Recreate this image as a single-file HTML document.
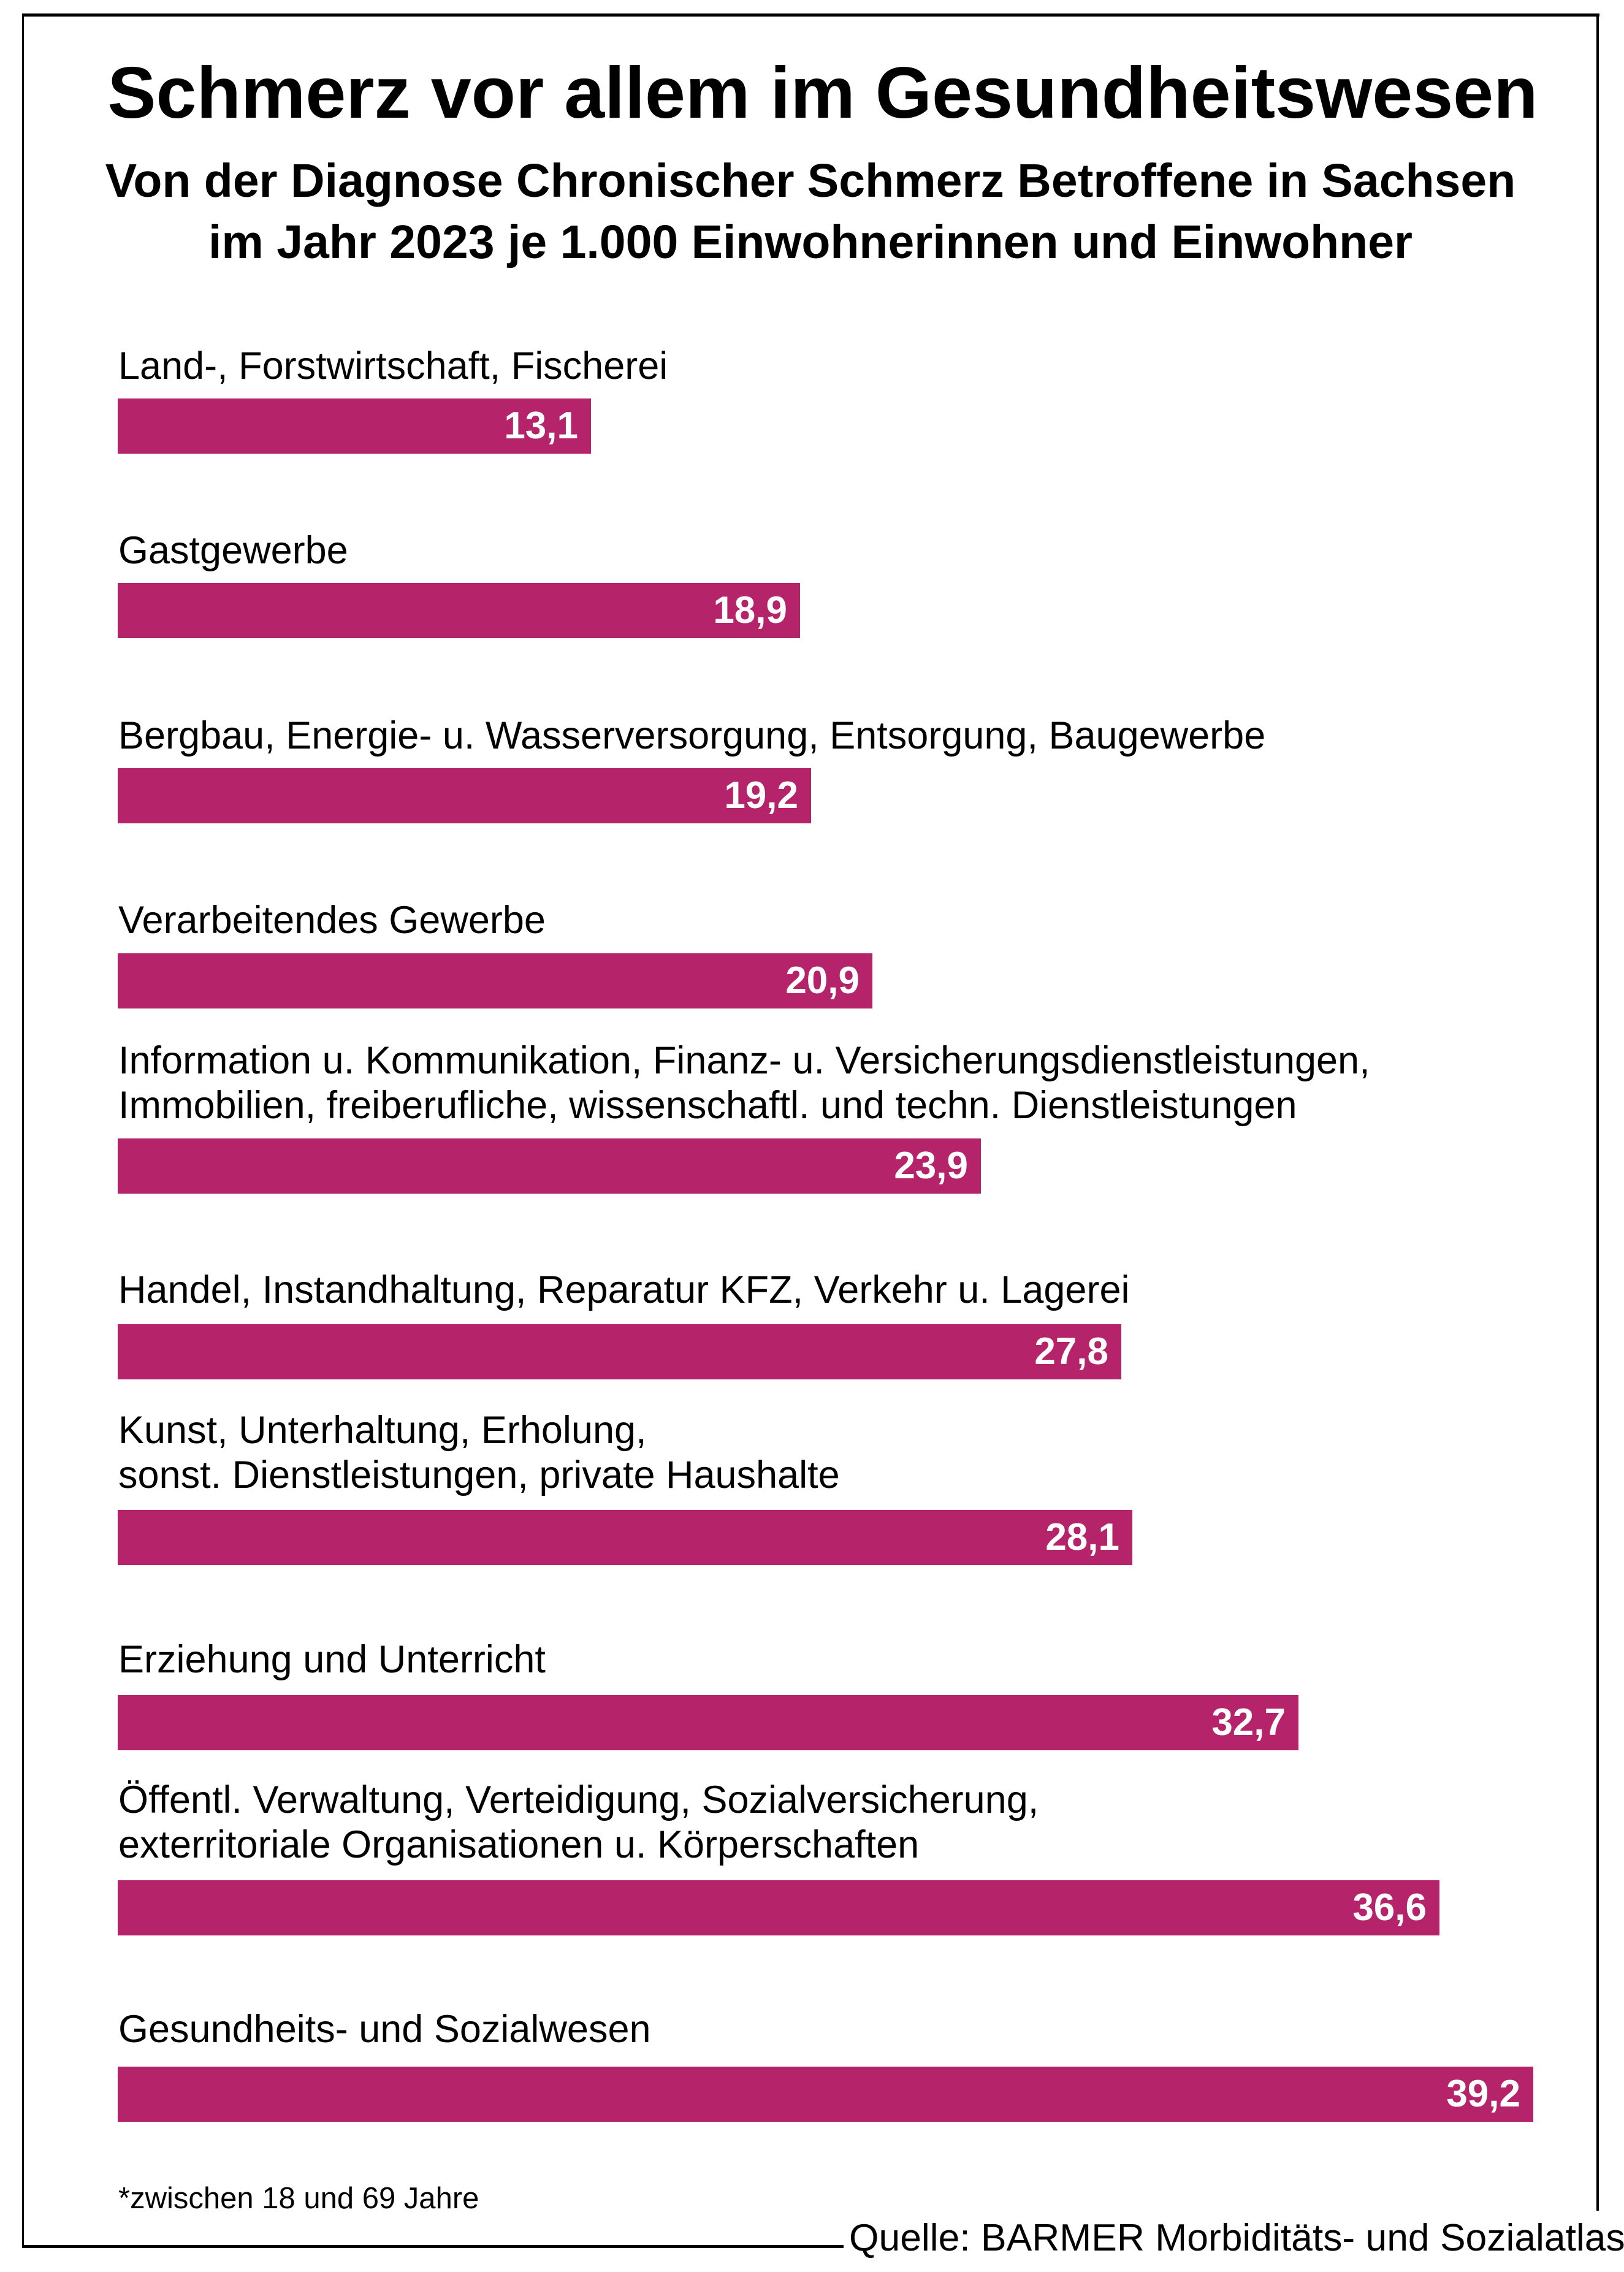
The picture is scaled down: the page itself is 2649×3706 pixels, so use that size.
<!DOCTYPE html>
<html><head><meta charset="utf-8"><style>
body{margin:0;width:2649px;height:3706px;background:#fff;position:relative;overflow:hidden;font-family:"Liberation Sans",sans-serif;color:#000}
.a{position:absolute}
.t{left:0;width:2644px;text-align:center;font-weight:bold;white-space:nowrap}
.l{left:193px;font-size:63px;white-space:nowrap;line-height:1}
.b{left:192px;height:90px;background:#b5246a}
.v{position:absolute;right:21px;top:0;line-height:90px;color:#fff;font-weight:bold;font-size:62px}
</style></head><body>
<div class="a" style="left:36px;top:22px;width:2573px;height:5px;background:#000"></div>
<div class="a" style="left:36px;top:22px;width:3px;height:3645px;background:#000"></div>
<div class="a" style="left:2604px;top:22px;width:4px;height:3584px;background:#000"></div>
<div class="a" style="left:36px;top:3662px;width:1340px;height:5px;background:#000"></div>
<div class="a t" style="top:87px;left:20px;font-size:118.6px;line-height:130px">Schmerz vor allem im Gesundheitswesen</div>
<div class="a t" style="top:250px;font-size:77px;line-height:90px">Von der Diagnose Chronischer Schmerz Betroffene in Sachsen</div>
<div class="a t" style="top:350px;font-size:77px;line-height:90px">im Jahr 2023 je 1.000 Einwohnerinnen und Einwohner</div>

<div class="a l" style="top:566px">Land-, Forstwirtschaft, Fischerei</div>
<div class="a b" style="top:650px;width:772px"><span class="v">13,1</span></div>

<div class="a l" style="top:867px">Gastgewerbe</div>
<div class="a b" style="top:951px;width:1113px"><span class="v">18,9</span></div>

<div class="a l" style="top:1169px">Bergbau, Energie- u. Wasserversorgung, Entsorgung, Baugewerbe</div>
<div class="a b" style="top:1253px;width:1131px"><span class="v">19,2</span></div>

<div class="a l" style="top:1470px">Verarbeitendes Gewerbe</div>
<div class="a b" style="top:1555px;width:1231px"><span class="v">20,9</span></div>

<div class="a l" style="top:1699px">Information u. Kommunikation, Finanz- u. Versicherungsdienstleistungen,</div>
<div class="a l" style="top:1772px">Immobilien, freiberufliche, wissenschaftl. und techn. Dienstleistungen</div>
<div class="a b" style="top:1857px;width:1408px"><span class="v">23,9</span></div>

<div class="a l" style="top:2073px">Handel, Instandhaltung, Reparatur KFZ, Verkehr u. Lagerei</div>
<div class="a b" style="top:2160px;width:1637px"><span class="v">27,8</span></div>

<div class="a l" style="top:2302px">Kunst, Unterhaltung, Erholung,</div>
<div class="a l" style="top:2375px">sonst. Dienstleistungen, private Haushalte</div>
<div class="a b" style="top:2463px;width:1655px"><span class="v">28,1</span></div>

<div class="a l" style="top:2676px">Erziehung und Unterricht</div>
<div class="a b" style="top:2765px;width:1926px"><span class="v">32,7</span></div>

<div class="a l" style="top:2905px">Öffentl. Verwaltung, Verteidigung, Sozialversicherung,</div>
<div class="a l" style="top:2978px">exterritoriale Organisationen u. Körperschaften</div>
<div class="a b" style="top:3067px;width:2156px"><span class="v">36,6</span></div>

<div class="a l" style="top:3279px">Gesundheits- und Sozialwesen</div>
<div class="a b" style="top:3371px;width:2309px"><span class="v">39,2</span></div>

<div class="a" style="left:193px;top:3562px;font-size:49px;line-height:1;white-space:nowrap">*zwischen 18 und 69 Jahre</div>
<div class="a" style="left:1385px;top:3620px;font-size:62.4px;line-height:1;white-space:nowrap">Quelle: BARMER Morbiditäts- und Sozialatlas</div>
</body></html>
